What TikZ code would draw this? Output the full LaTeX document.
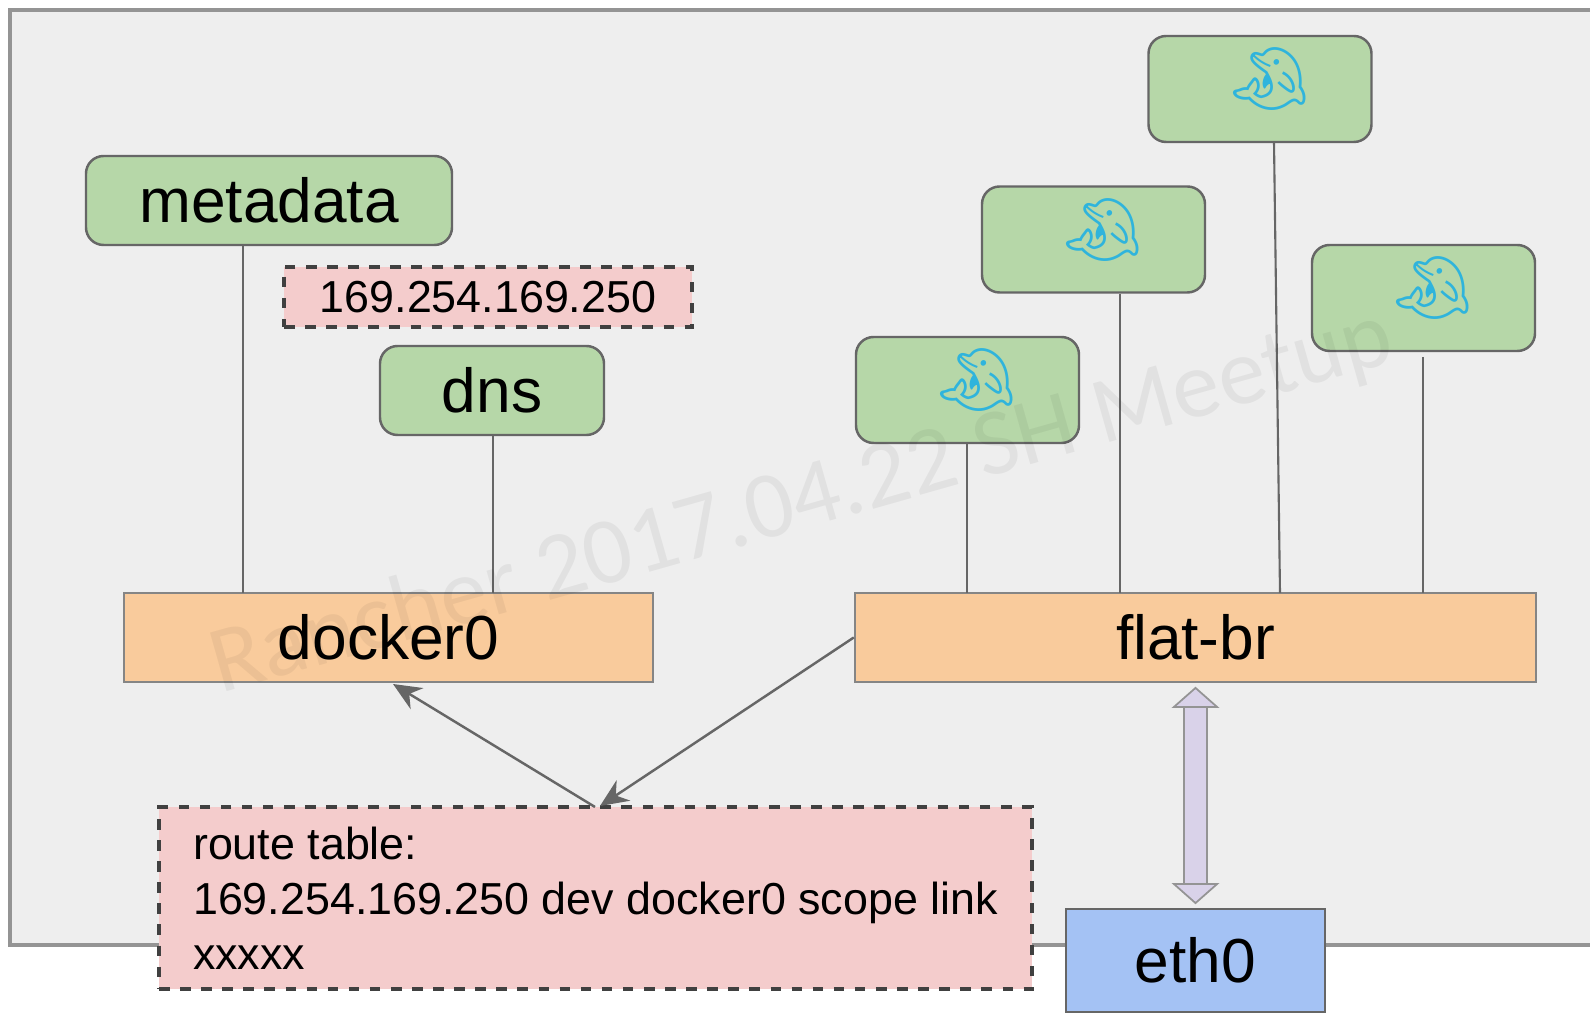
\documentclass[tikz,border=0pt]{standalone}
\usepackage{fontspec}
\setmainfont{Liberation Sans}
\newfontfamily\emojifont{Noto Emoji}
\newfontfamily\markfont{Carlito}
\usetikzlibrary{arrows.meta}

\definecolor{panelgrey}{HTML}{EEEEEE}
\definecolor{boxgreen}{HTML}{B6D7A8}
\definecolor{bridgeorange}{HTML}{F9CB9C}
\definecolor{notepink}{HTML}{F4CCCC}
\definecolor{ethblue}{HTML}{A4C2F4}
\definecolor{linklavender}{HTML}{D9D2E9}
\definecolor{linegrey}{HTML}{666666}
\definecolor{dolphinblue}{HTML}{2FB4DC}

\tikzset{
  service/.style={draw=linegrey,fill=boxgreen,rounded corners=5pt,line width=0.7pt,minimum height=0.89cm,font=\fontsize{17.7}{20}\selectfont},
  container/.style={draw=linegrey,fill=boxgreen,rounded corners=5pt,line width=0.7pt,minimum width=2.23cm,minimum height=1.06cm,inner sep=0pt},
  bridge/.style={draw=linegrey!80,fill=bridgeorange,line width=0.7pt,minimum height=0.89cm,font=\fontsize{17.7}{20}\selectfont},
  note/.style={draw=black!75,fill=notepink,dashed,line width=0.9pt,font=\fontsize{12.75}{15.6}\selectfont},
  link/.style={draw=linegrey,line width=0.6pt},
  routearrow/.style={draw=linegrey,line width=0.7pt,-{Stealth[length=8pt,width=7pt]}},
  botharrow/.style={draw=linegrey!70,line width=0.5pt,double=linklavender,double distance=6pt,
    {Triangle[length=6pt,width=13.5pt,fill=linklavender]}-{Triangle[length=6pt,width=13.5pt,fill=linklavender]},shorten >=1pt,shorten <=1pt},
}
\newcommand{\dolphin}{\hspace*{0.16cm}\smash{\raisebox{-0.19cm}{\textcolor{dolphinblue}{\emojifont\fontsize{20}{20}\selectfont\rotatebox[origin=c]{-65}{\char"1F42C}}}}}

\begin{document}
\begin{tikzpicture}
  \useasboundingbox (0,0) rectangle (15.9,-10.14);
  % panel, open on the right
  \fill[panelgrey] (0.10,-0.10) rectangle (15.9,-9.45);
  \draw[draw=linegrey!70,line width=1pt] (15.9,-0.10) -- (0.10,-0.10) -- (0.10,-9.45) -- (15.9,-9.45);

  % bridges
  \node[bridge,minimum width=5.29cm] (docker0) at (3.885,-6.375) {docker0};
  \node[bridge,minimum width=6.81cm] (flatbr) at (11.955,-6.375) {flat-br};
  \node[draw=linegrey,fill=ethblue,line width=0.7pt,minimum width=2.59cm,minimum height=1.03cm,font=\fontsize{17.7}{20}\selectfont] (eth0) at (11.955,-9.605) {eth0};

  % services
  \node[service,minimum width=3.66cm] (metadata) at (2.69,-2.005) {metadata};
  \node[service,minimum width=2.24cm] (dns) at (4.92,-3.905) {dns};
  \node[note,minimum width=4.08cm,minimum height=0.60cm] (dnsip) at (4.88,-2.97) {169.254.169.250};

  % containers
  \node[container] (dolphina) at (9.675,-3.90) {\dolphin};
  \node[container] (dolphinb) at (10.935,-2.395) {\dolphin};
  \node[container] (dolphinc) at (12.60,-0.89) {\dolphin};
  \node[container] (dolphind) at (14.235,-2.98) {\dolphin};

  % route table
  \node[note,minimum width=8.73cm,minimum height=1.82cm,align=left] (route) at (5.955,-8.98)
    {route table:\\169.254.169.250 dev docker0 scope link\\xxxxx};

  % drops onto the bridges
  \coordinate (metadrop) at (2.43,-5.93);
  \coordinate (dnsdrop) at (4.93,-5.93);
  \coordinate (adrop) at (9.67,-5.93);
  \coordinate (bdrop) at (11.20,-5.93);
  \coordinate (cdrop) at (12.80,-5.93);
  \coordinate (ddrop) at (14.23,-5.93);
  \coordinate (cstart) at (12.74,-1.42);
  \coordinate (dstart) at (14.23,-3.57);
  \coordinate (routetop) at (5.95,-8.07);
  \coordinate (dockertip) at (3.93,-6.84);
  \coordinate (routetip) at (6.00,-8.06);

  \draw[link] (metadrop |- metadata.south) -- (metadrop);
  \draw[link] (dnsdrop |- dns.south) -- (dnsdrop);
  \draw[link] (adrop |- dolphina.south) -- (adrop);
  \draw[link] (bdrop |- dolphinb.south) -- (bdrop);
  \draw[link] (cstart) -- (cdrop);
  \draw[link] (dstart) -- (ddrop);

  \draw[routearrow] (routetop) -- (dockertip);
  \draw[routearrow] (flatbr.west) -- (routetip);
  \draw[botharrow] (flatbr.south) -- (eth0.north);

  % watermark
  \node[rotate=15.8,text=black,opacity=0.05,font=\markfont\fontsize{27}{27}\selectfont] (watermark) at (8.02,-5.03) {Rancher 2017.04.22 SH Meetup};
\end{tikzpicture}
\end{document}
